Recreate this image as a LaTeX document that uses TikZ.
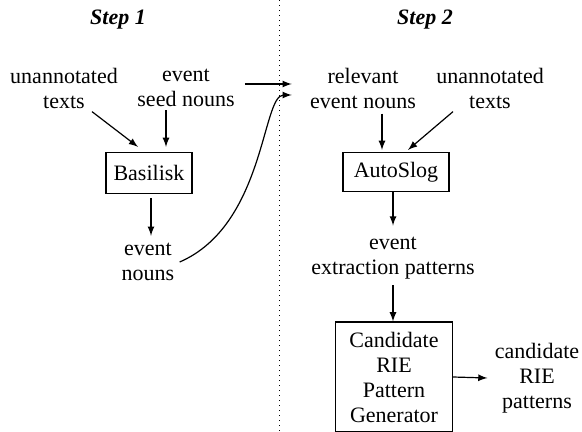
\documentclass[tikz,border=0pt]{standalone}
\usepackage{fontspec}
\setmainfont{Liberation Serif}
\begin{document}
\begin{tikzpicture}[x = 0.5pt, y = -0.5pt,
    txt/.style = {align = center, inner sep = 0pt, font = \fontsize{11}{12.5}\selectfont},
    box/.style = {txt, draw, line width = .6pt},
    arr/.style = {-latex, line width = .6pt}]
  \useasboundingbox (0, 0) rectangle (582, 432);
  \def\divx{279}
  \draw[dotted, line width = .5pt] (\divx, 0)--(\divx, 432);
  \node[txt, font = \fontsize{11}{12.5}\selectfont\bfseries\itshape] (stepone) at (118, 20) {Step 1};
  \node[txt, font = \fontsize{11}{12.5}\selectfont\bfseries\itshape] (steptwo) at (425, 20) {Step 2};
  \node[txt] (untexts) at (64, 88) {unannotated\\texts};
  \node[txt] (seed) at (186, 88) {event\\seed nouns};
  \node[box, minimum width = 43pt, minimum height = 20.5pt] (basilisk) at (149, 173) {Basilisk};
  \node[txt] (evnouns) at (148, 262) {event\\nouns};
  \node[txt] (relnouns) at (363, 88) {relevant\\event nouns};
  \node[txt] (untextstwo) at (490, 88) {unannotated\\texts};
  \node[box, minimum width = 53pt, minimum height = 19.5pt] (autoslog) at (396, 172) {AutoSlog};
  \node[txt] (extpat) at (393, 258) {event\\extraction patterns};
  \node[box, minimum width = 58.5pt, minimum height = 55pt] (generator) at (394, 377) {Candidate\\RIE\\Pattern\\Generator};
  \node[txt] (riepat) at (537, 378) {candidate\\RIE\\patterns};
  \draw[arr] ([shift = {(28, 3)}]untexts.south) -- ([shift = {(-11, -5)}]basilisk.north);
  \draw[arr] ([shift = {(-20, 3)}]seed.south) -- ([shift = {(17, -5)}]basilisk.north);
  \draw[arr] ([shift = {(2, 4)}]basilisk.south) -- ([shift = {(3, -7)}]evnouns.north);
  \draw[arr] ([shift = {(10, -4)}]seed.east) -- ([shift = {(-18, -4)}]relnouns.west);
  \draw[arr] ([shift = {(5, 0)}]evnouns.east) .. controls (265, 225) and (262, 95) .. ([shift = {(-18, 7)}]relnouns.west);
  \draw[arr] ([shift = {(19, 5)}]relnouns.south) -- ([shift = {(-14, -2)}]autoslog.north);
  \draw[arr] ([shift = {(-37, 3)}]untextstwo.south) -- ([shift = {(12, -2)}]autoslog.north);
  \draw[arr] ([shift = {(-3, 0)}]autoslog.south) -- ([shift = {(0, -11)}]extpat.north);
  \draw[arr] ([shift = {(0, 6)}]extpat.south) -- (generator.north -| extpat);
  \draw[arr] (generator.east) -- ([shift = {(-7, 0)}]riepat.west);
\end{tikzpicture}
\end{document}
